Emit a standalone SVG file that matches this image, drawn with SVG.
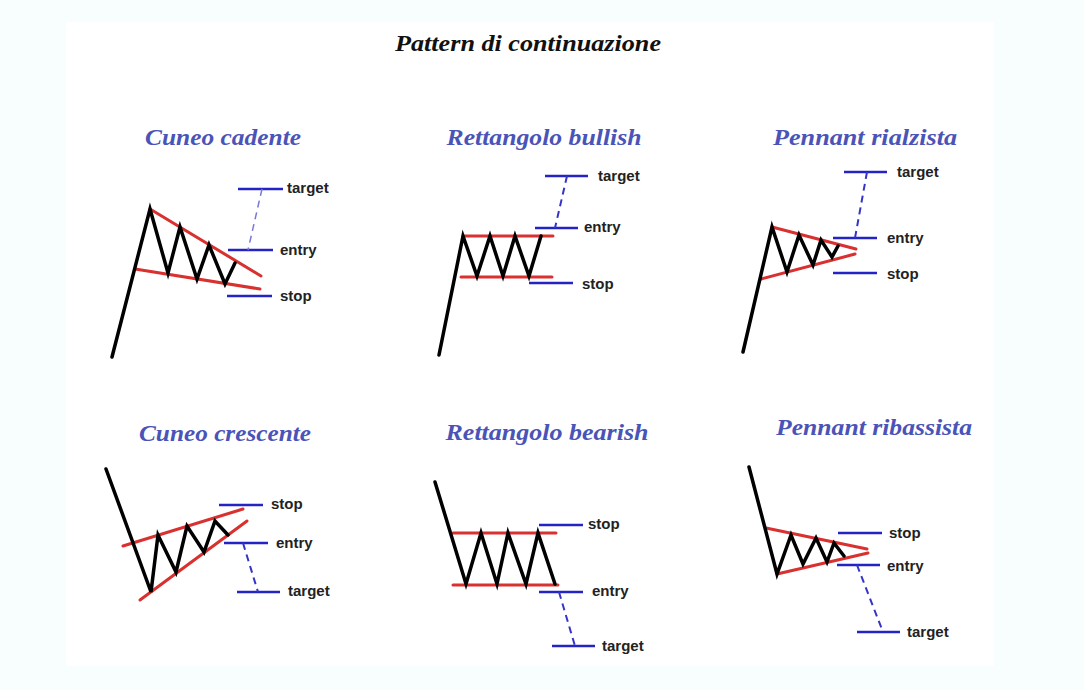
<svg xmlns="http://www.w3.org/2000/svg" width="1084" height="690" viewBox="0 0 1084 690">
<style>
.title{font-family:"Liberation Serif",serif;font-style:italic;font-weight:bold;font-size:23px;fill:#111}
.sub{font-family:"Liberation Serif",serif;font-style:italic;font-weight:bold;font-size:23px;fill:#4a54b8}
.lbl{font-family:"Liberation Sans",Arial,sans-serif;font-weight:bold;font-size:15px;fill:#222}
.blk{fill:none;stroke:#000;stroke-width:3.5;stroke-linejoin:miter;stroke-linecap:round}
.red{fill:none;stroke:#d93030;stroke-width:3;stroke-linecap:round}
.blu{fill:none;stroke:#2424c4;stroke-width:2.5}
.dash{fill:none;stroke:#3434c8;stroke-width:2;stroke-dasharray:7,5}
.dashl{fill:none;stroke:#7878d8;stroke-width:1.5;stroke-dasharray:7,5}
</style>
<rect x="0" y="0" width="1084" height="690" fill="#f8fdfe"/>
<rect x="66" y="22" width="928" height="644" fill="#ffffff"/>
<text class="title" x="528" y="51" text-anchor="middle" textLength="266" lengthAdjust="spacingAndGlyphs">Pattern di continuazione</text>

<g id="cuneo-cadente">
<text class="sub" x="223" y="145" text-anchor="middle" textLength="156" lengthAdjust="spacingAndGlyphs">Cuneo cadente</text>
<path class="red" d="M150,209 L261,276"/>
<path class="red" d="M135,269 L260,289"/>
<path class="blk" d="M112,357 L150,209 L168,273 L180,227 L197,279 L209,245 L225,284 L235,263"/>
<path class="blu" d="M238,189 H283 M228,250 H273 M227,296 H272"/>
<path class="dashl" d="M262,189 L248,250"/>
<text class="lbl" x="287" y="193">target</text>
<text class="lbl" x="280" y="255">entry</text>
<text class="lbl" x="280" y="301">stop</text>
</g>

<g id="rettangolo-bullish">
<text class="sub" x="544" y="145" text-anchor="middle" textLength="195" lengthAdjust="spacingAndGlyphs">Rettangolo bullish</text>
<path class="red" d="M463,236 H553"/>
<path class="red" d="M461,277 H552"/>
<path class="blk" d="M439,355 L463,236 L477,276 L490,236 L503,276 L515,236 L529,276 L541,236"/>
<path class="blu" d="M545,176 H588 M535,228 H578 M529,283 H573"/>
<path class="dash" d="M567,176 L555,228"/>
<text class="lbl" x="598" y="181">target</text>
<text class="lbl" x="584" y="232">entry</text>
<text class="lbl" x="582" y="289">stop</text>
</g>

<g id="pennant-rialzista">
<text class="sub" x="865" y="145" text-anchor="middle" textLength="184" lengthAdjust="spacingAndGlyphs">Pennant rialzista</text>
<path class="red" d="M772,227 L856,249"/>
<path class="red" d="M761,279 L855,254"/>
<path class="blk" d="M743,352 L772,227 L787,272 L799,235 L813,265 L821,240 L832,257 L838,246"/>
<path class="blu" d="M844,172 H887 M833,238 H877 M833,273 H877"/>
<path class="dash" d="M867,172 L855,238"/>
<text class="lbl" x="897" y="177">target</text>
<text class="lbl" x="887" y="243">entry</text>
<text class="lbl" x="887" y="279">stop</text>
</g>

<g id="cuneo-crescente">
<text class="sub" x="225" y="441" text-anchor="middle" textLength="172" lengthAdjust="spacingAndGlyphs">Cuneo crescente</text>
<path class="red" d="M123,546 L243,509"/>
<path class="red" d="M140,600 L247,521"/>
<path class="blk" d="M106,469 L151,592 L158,535 L176,572 L187,526 L204,552 L215,521 L228,535"/>
<path class="blu" d="M219,505 H263 M224,543 H268 M237,592 H280"/>
<path class="dash" d="M243,543 L258,592"/>
<text class="lbl" x="271" y="509">stop</text>
<text class="lbl" x="276" y="548">entry</text>
<text class="lbl" x="288" y="596">target</text>
</g>

<g id="rettangolo-bearish">
<text class="sub" x="547" y="440" text-anchor="middle" textLength="203" lengthAdjust="spacingAndGlyphs">Rettangolo bearish</text>
<path class="red" d="M453,533 H556"/>
<path class="red" d="M453,585 H558"/>
<path class="blk" d="M435,482 L466,584 L481,533 L497,584 L508,533 L526,584 L538,533 L555,584"/>
<path class="blu" d="M539,525 H583 M539,592 H583 M552,646 H595"/>
<path class="dash" d="M559,592 L575,646"/>
<text class="lbl" x="588" y="529">stop</text>
<text class="lbl" x="592" y="596">entry</text>
<text class="lbl" x="602" y="651">target</text>
</g>

<g id="pennant-ribassista">
<text class="sub" x="874" y="435" text-anchor="middle" textLength="196" lengthAdjust="spacingAndGlyphs">Pennant ribassista</text>
<path class="red" d="M766,528 L867,549"/>
<path class="red" d="M777,574 L868,553"/>
<path class="blk" d="M749,467 L777,574 L791,535 L803,564 L816,538 L827,562 L834,543 L844,556"/>
<path class="blu" d="M838,533 H882 M837,565 H880 M857,632 H900"/>
<path class="dash" d="M857,565 L883,632"/>
<text class="lbl" x="889" y="538">stop</text>
<text class="lbl" x="887" y="571">entry</text>
<text class="lbl" x="907" y="637">target</text>
</g>
</svg>
